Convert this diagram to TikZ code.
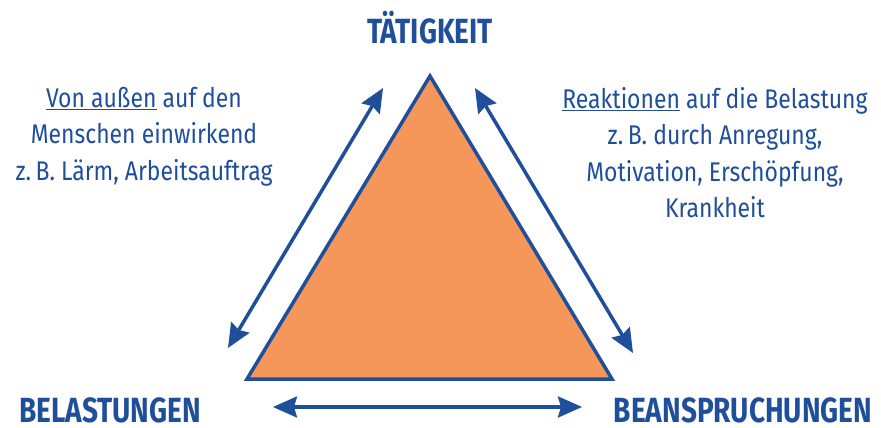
\documentclass[tikz,border=0pt]{standalone}
\usepackage{fontspec}
\setmainfont{Fira Sans}[FakeStretch=0.80]
\newfontfamily\bodyfont{Fira Sans}[FakeStretch=0.85]
\usetikzlibrary{arrows.meta}
\definecolor{dblue}{HTML}{1F4E9B}
\definecolor{tri}{HTML}{F5965A}
\tikzset{
  x=1pt, y=-1pt,
  conn/.style={draw=dblue, line width=3.5pt, {Stealth[length=24pt,width=21pt,inset=3pt]}-{Stealth[length=24pt,width=21pt,inset=3pt]}},
  title/.style={text=dblue, font=\fontsize{35}{40}\selectfont\bfseries, inner sep=0pt, anchor=base, text depth=0pt},
  body/.style={text=dblue, font=\bodyfont\fontsize{27}{36.5}\selectfont, align=center, inner sep=0pt, anchor=north},
}
\begin{document}
\begin{tikzpicture}
\useasboundingbox (0,0) rectangle (881,428);
% triangle
\coordinate (apex) at (430,76);
\coordinate (bl) at (247,379);
\coordinate (br) at (612,379);
\draw[draw=dblue, fill=tri, line width=3.5pt, line join=miter] (apex) -- (bl) -- (br) -- cycle;
% arrows
\coordinate (l1) at (228,348);
\coordinate (l2) at (383,88);
\coordinate (r1) at (475,88);
\coordinate (r2) at (633,353);
\coordinate (b1) at (273,407);
\coordinate (b2) at (582,407);
\draw[conn] (l1) -- (l2);
\draw[conn] (r1) -- (r2);
\draw[conn] (b1) -- (b2);
% titles
\node[title] (t) at (430,44) {TÄTIGKEIT};
\node[title] (bel) at (110,422) {BELASTUNGEN};
\node[title] (bea) at (743,422) {BEANSPRUCHUNGEN};
% texts
\node[body] (left) at (144,87) {\underline{Von außen} auf den\\Menschen einwirkend\\z.\,B. Lärm, Arbeitsauftrag};
\node[body] (right) at (715,87) {\underline{Reaktionen} auf die Belastung\\z.\,B. durch Anregung,\\Motivation, Erschöpfung,\\Krankheit};
\end{tikzpicture}
\end{document}
